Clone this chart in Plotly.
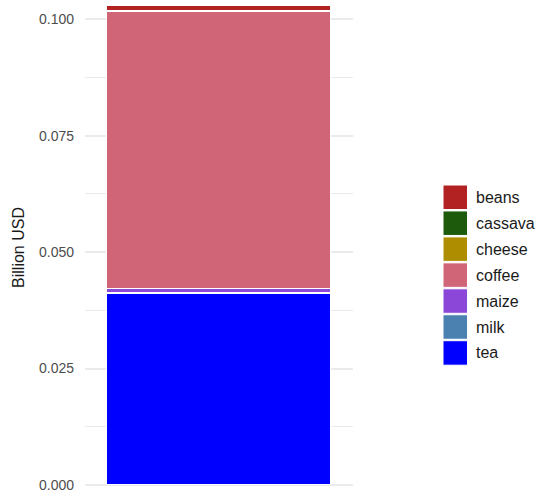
import plotly.graph_objects as go

categories = ["beans", "cassava", "cheese", "coffee", "maize", "milk", "tea"]
values = [0.0009, 0.0001, 0.0001, 0.0596, 0.0008, 0.0002, 0.0411]
colors = ["#B22222", "#1D5A0B", "#AE8E00", "#D06577", "#8B48D8", "#4A81B0", "#0000FF"]
tick_vals = [0.0, 0.025, 0.05, 0.075, 0.1]
tick_text = ["0.000", "0.025", "0.050", "0.075", "0.100"]

W, H = 537, 495
L, R, T, B = 85, 184, 5, 5
pw, ph = W - L - R, H - T - B

fig = go.Figure()
# stack: first category on top (ggplot order)
for cat, val, col in reversed(list(zip(categories, values, colors))):
    fig.add_trace(go.Bar(
        x=[0], y=[val], name=cat, width=1.0,
        marker=dict(color=col, line=dict(color="white", width=1)),
        showlegend=False,
    ))

def px_x(p):
    return (p - L) / pw

def px_y(p):
    return (H - B - p) / ph

shapes, annotations = [], []
top0, pitch, size = 185.0, 25.95, 24.5
for i, (cat, col) in enumerate(zip(categories, colors)):
    y0 = top0 + i * pitch
    shapes.append(dict(type="rect", xref="paper", yref="paper",
                       x0=px_x(443), x1=px_x(443 + size),
                       y0=px_y(y0 + size), y1=px_y(y0),
                       fillcolor=col, line=dict(color="white", width=1)))
    annotations.append(dict(xref="paper", yref="paper", x=px_x(474), y=px_y(y0 + size / 2),
                            text=cat, showarrow=False, xanchor="left", yanchor="middle",
                            font=dict(size=16, color="#1a1a1a")))

fig.update_layout(
    width=W, height=H,
    margin=dict(l=L, r=R, t=T, b=B, autoexpand=False),
    paper_bgcolor="white", plot_bgcolor="white",
    barmode="stack", bargap=0,
    font=dict(family="Liberation Sans, Arial, sans-serif"),
    shapes=shapes, annotations=annotations,
    showlegend=False,
    xaxis=dict(range=[-0.6, 0.6], showticklabels=False, showgrid=False,
               zeroline=False, showline=False, ticks=""),
    yaxis=dict(range=[-0.0011, 0.1031], tickvals=tick_vals, ticktext=tick_text,
               showgrid=True, gridcolor="#EBEBEB", gridwidth=2,
               minor=dict(showgrid=True, dtick=0.0125, tick0=0.0125, gridcolor="#EBEBEB", gridwidth=1),
               zeroline=False, showline=False, ticks="",
               tickfont=dict(size=14, color="#4D4D4D"), ticklabelstandoff=10,
               automargin=False,
               title=dict(text="Billion USD", font=dict(size=16, color="#1a1a1a"), standoff=10)),
)

fig.write_html("out.html", config={"displayModeBar": False},
               post_script="document.body.style.margin='0';document.body.style.overflow='hidden';")
